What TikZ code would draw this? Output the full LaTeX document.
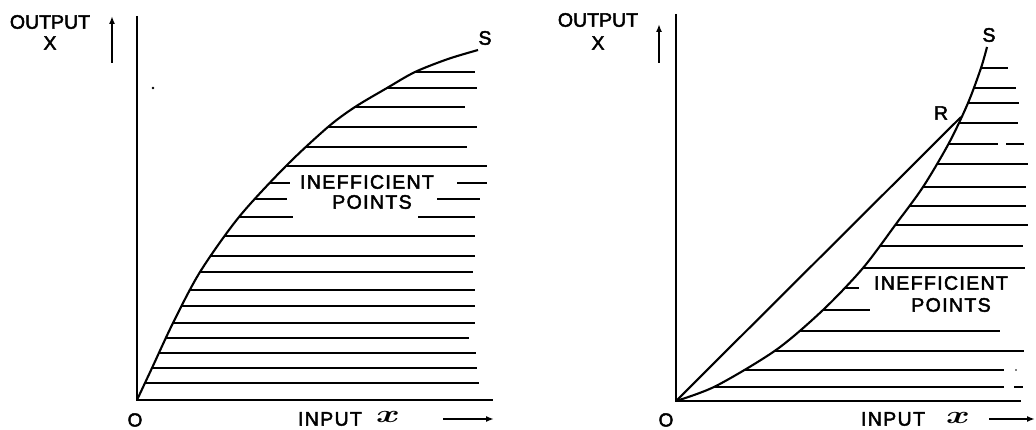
\documentclass[tikz,border=0pt]{standalone}
\usepackage{graphicx}
\usepackage{fontspec}
\setmainfont[FakeBold=2.4]{Liberation Sans}
\newfontfamily\spacedfont[LetterSpace=7,FakeBold=2.4]{Liberation Sans}
\usetikzlibrary{arrows.meta}
\begin{document}
\begin{tikzpicture}[x=1pt,y=-1pt,
  lbl/.style={font=\fontsize{19.5}{19.5}\selectfont, inner sep=0pt},
  sml/.style={font=\fontsize{19}{19}\selectfont, inner sep=0pt},
  wide/.style={font=\spacedfont\fontsize{19.5}{19.5}\selectfont, inner sep=0pt},
  var/.style={font=\fontsize{27}{27}\selectfont\boldmath, inner sep=0pt},
  axis/.style={line width=2.3pt},
  curve/.style={line width=2.1pt, line join=round},
  hatch/.style={line width=1.4pt},
  ptr/.style={line width=1.6pt, -{Latex[length=8pt,width=6pt]}}]
\useasboundingbox (0,0) rectangle (1036,430);

% ---------------- left panel ----------------
\coordinate (Y1) at (137,16);
\coordinate (O1) at (137,400);
\coordinate (X1) at (493,400);
\draw[axis] (Y1) -- (O1) -- (X1);
\draw[curve] plot[smooth] coordinates {(137,400) (152,368) (173,323) (200,272) (239,217) (286,166) (328,127) (355,107) (387,88) (415,72) (448,59) (478,50)};
\begin{scope}
  \clip plot[smooth] coordinates {(137,400) (152,368) (173,323) (200,272) (239,217) (286,166) (328,127) (355,107) (387,88) (415,72) (448,59) (478,50)} -- (540,40) -- (540,400) -- cycle;
  \foreach \y/\r in {72/475, 88/477, 107/465, 127/477, 147/467, 166/487, 236/475, 256/475, 272/473, 290/475, 306/475, 323/475, 338/469, 353/476, 368/477, 383/479}
    \draw[hatch] (130,\y) -- (\r,\y);
  \draw[hatch] (130,183) -- (290,183) (457,183) -- (487,183);
  \draw[hatch] (130,199) -- (287,199) (437,199) -- (480,199);
  \draw[hatch] (130,217) -- (293,217) (418,217) -- (475,217);
\end{scope}
\fill (153,88) circle (1.4);

\node[lbl] (out1) at (50,22) {OUTPUT};
\node[lbl] (xo1) at (50,43) {X};
\coordinate (ua1s) at (112,63);
\coordinate (ua1e) at (112,16);
\draw[ptr] (ua1s) -- (ua1e);
\node[lbl] (S1) at (485,38) {S};
\node[wide] (ine1) at (367,182) {INEFFICIENT};
\node[wide] (pts1) at (372,202) {POINTS};
\node[sml] (o1) at (135,420) {O};
\node[wide] (in1) at (330,419) {INPUT};
\node[var] (xi1) at (388,417) {\scalebox{1.45}[1]{$x$}};
\coordinate (ra1s) at (443,419);
\coordinate (ra1e) at (494,419);
\draw[ptr] (ra1s) -- (ra1e);

% ---------------- right panel ----------------
\coordinate (Y2) at (676,14);
\coordinate (O2) at (676,401);
\coordinate (X2) at (1021,401);
\coordinate (R) at (961,117);
\draw[axis] (Y2) -- (O2) -- (X2);
\draw[curve] plot[smooth] coordinates {(676,401) (716,386) (776,350) (823,310) (863,268) (896,224) (923,187) (949,143) (968,103) (981,68) (987,47)};
\draw[curve] (O2) -- (R);
\begin{scope}
  \clip plot[smooth] coordinates {(676,401) (716,386) (776,350) (823,310) (863,268) (896,224) (923,187) (949,143) (968,103) (981,68) (987,47)} -- (1036,40) -- (1036,401) -- cycle;
  \foreach \y/\r in {68/1008, 88/1016, 103/1019, 123/1018, 164/1028, 187/1026, 206/1026, 225/1028, 246/1023, 268/1025, 288/859, 310/870, 331/1000, 351/1024, 370/1004, 387/1004}
    \draw[hatch] (670,\y) -- (\r,\y);
  \draw[hatch] (670,144) -- (998,144) (1006,144) -- (1024,144);
  \draw[hatch] (1014,387) -- (1023,387);
  \fill (1016,370) circle (0.9);
\end{scope}

\node[lbl] (out2) at (598,20) {OUTPUT};
\node[lbl] (xo2) at (598,43) {X};
\coordinate (ua2s) at (659,63);
\coordinate (ua2e) at (659,24);
\draw[ptr] (ua2s) -- (ua2e);
\node[lbl] (S2) at (989,35) {S};
\node[lbl] (Rl) at (941,113) {R};
\node[wide] (ine2) at (941,283) {INEFFICIENT};
\node[wide] (pts2) at (951,305) {POINTS};
\node[sml] (o2) at (666,420) {O};
\node[wide] (in2) at (893,419) {INPUT};
\node[var] (xi2) at (958,418) {\scalebox{1.45}[1]{$x$}};
\coordinate (ra2s) at (989,419);
\coordinate (ra2e) at (1035,419);
\draw[ptr] (ra2s) -- (ra2e);
\end{tikzpicture}
\end{document}
